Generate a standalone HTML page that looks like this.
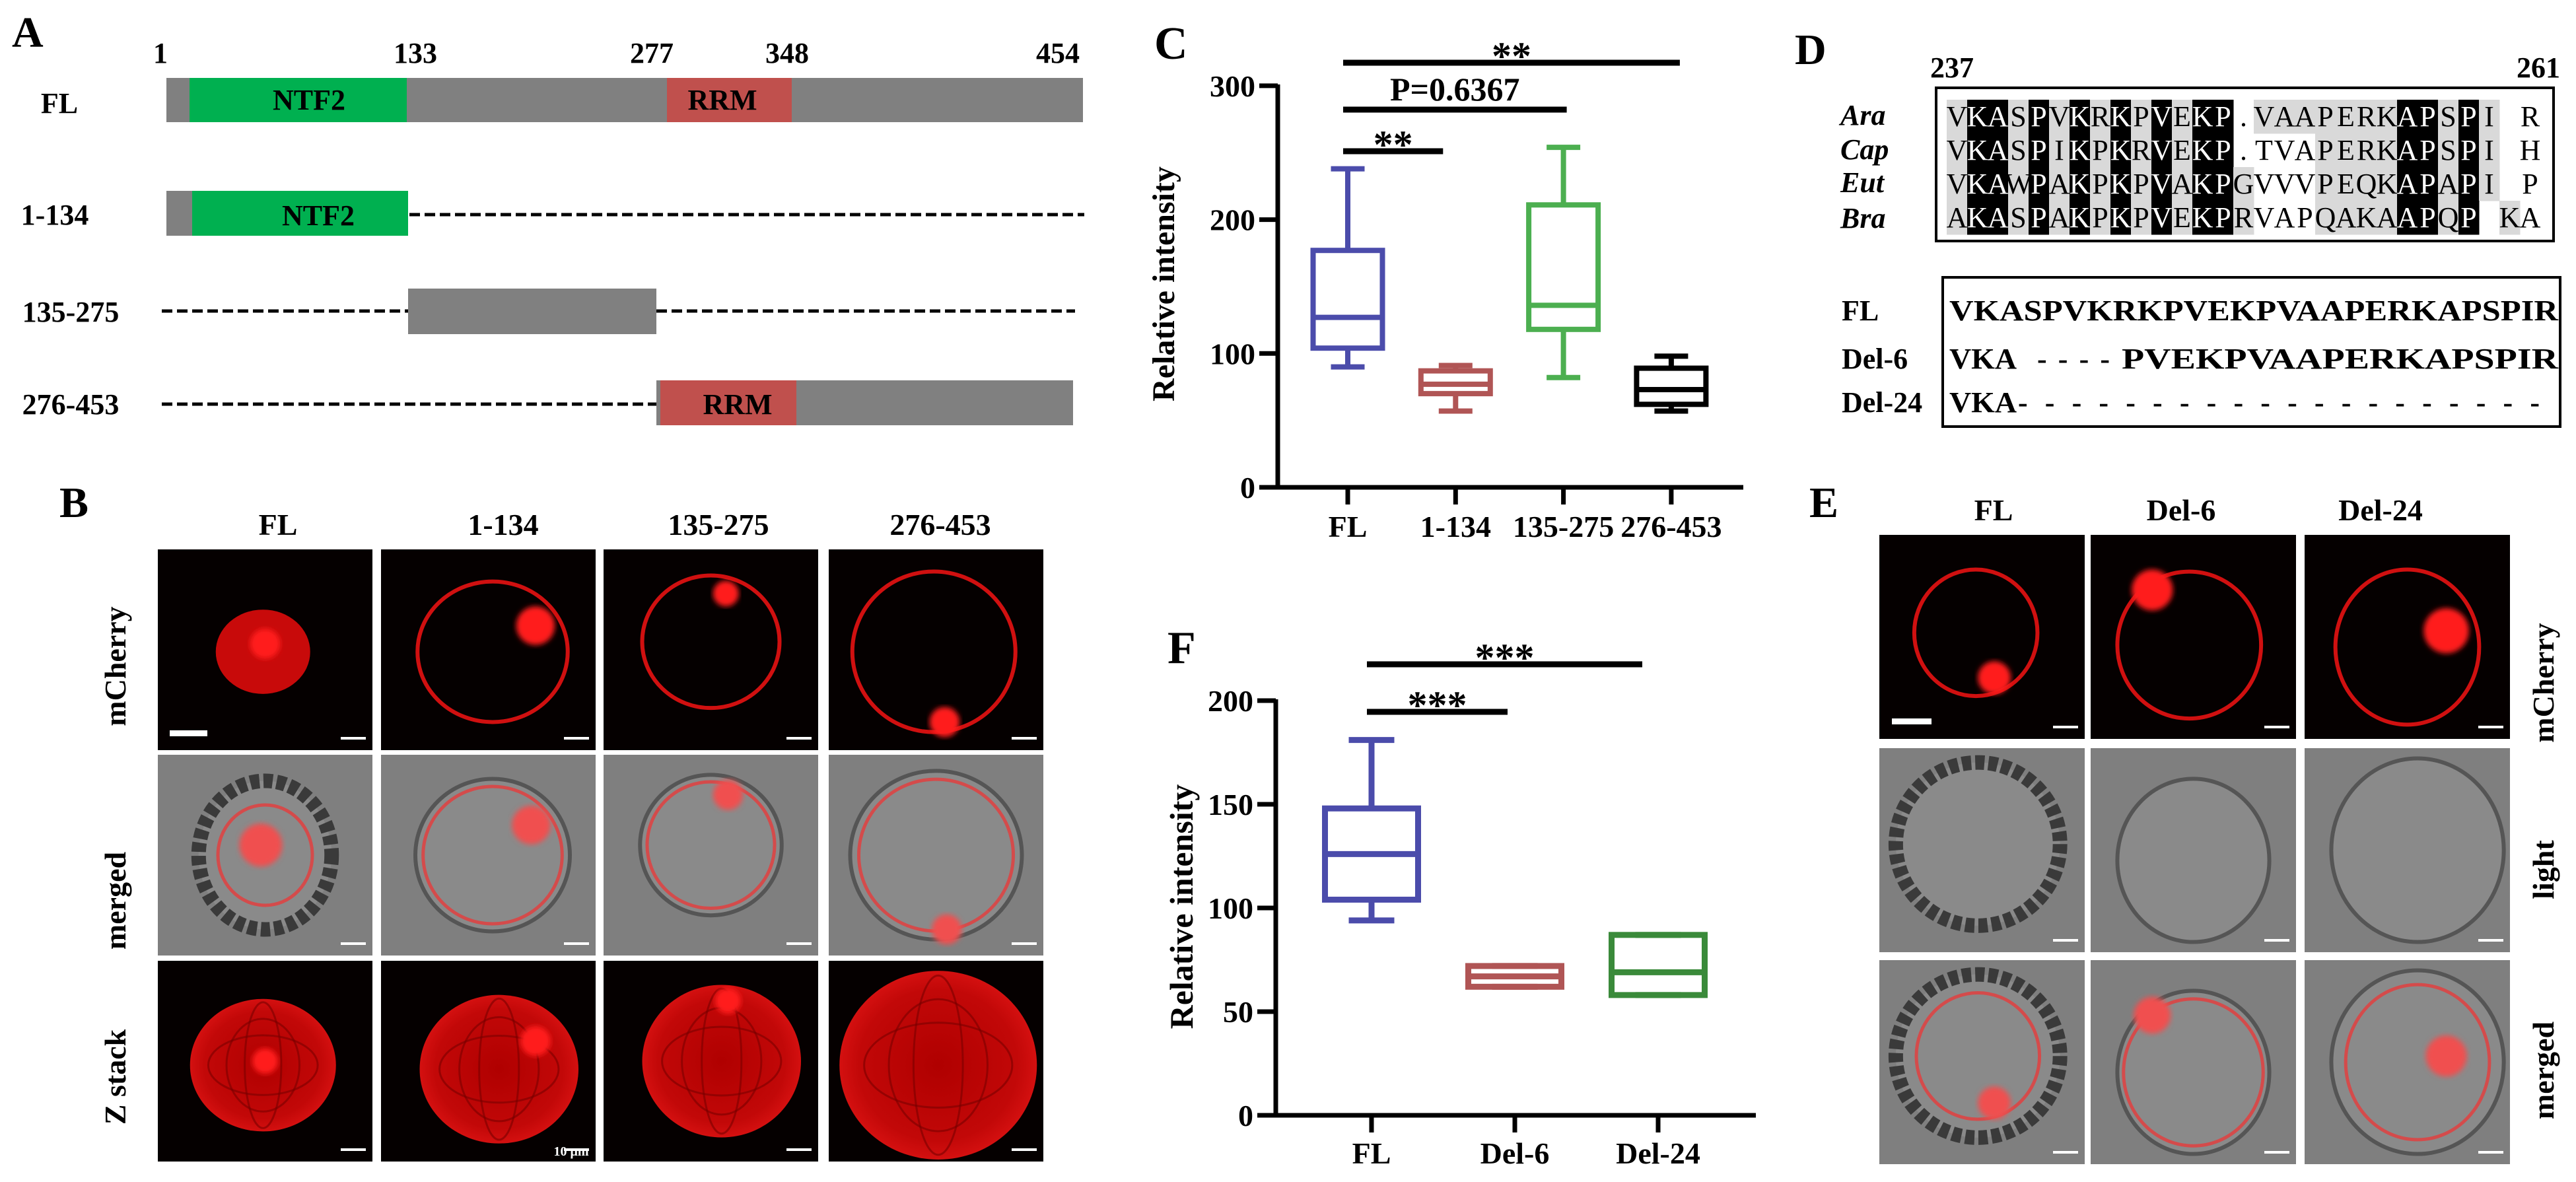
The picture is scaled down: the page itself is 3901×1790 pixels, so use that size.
<!DOCTYPE html>
<html><head><meta charset="utf-8">
<style>
html,body{margin:0;padding:0;background:#fff;}
svg{display:block;font-family:"Liberation Serif",serif;}
.b{font-weight:bold;}
</style></head>
<body>
<svg id="fig" width="3901" height="1790" viewBox="0 0 3901 1790" xmlns="http://www.w3.org/2000/svg">
<rect width="3901" height="1790" fill="#fff"/>

<text class="b" x="18" y="71" font-size="66">A</text>
<text class="b" x="90" y="783" font-size="66">B</text>
<text class="b" x="1748" y="89" font-size="70">C</text>
<text class="b" x="2718" y="97" font-size="66">D</text>
<text class="b" x="2740" y="783" font-size="66">E</text>
<text class="b" x="1768" y="1004" font-size="70">F</text>

<g id="panelA" class="b" font-size="44" text-anchor="middle">
  <text x="243" y="95">1</text>
  <text x="629" y="95">133</text>
  <text x="987" y="95">277</text>
  <text x="1192" y="95">348</text>
  <text x="1602" y="95">454</text>

  <text x="90" y="171">FL</text>
  <rect x="252" y="118" width="1388" height="67" fill="#808080"/>
  <rect x="287" y="118" width="329" height="67" fill="#00b050"/>
  <rect x="1010" y="118" width="189" height="67" fill="#c0504d"/>
  <text x="468" y="166">NTF2</text>
  <text x="1094" y="166">RRM</text>

  <text x="83" y="340">1-134</text>
  <rect x="252" y="289" width="366" height="68" fill="#808080"/>
  <rect x="291" y="289" width="327" height="68" fill="#00b050"/>
  <text x="482" y="341">NTF2</text>
  <line x1="620" y1="325" x2="1642" y2="325" stroke="#000" stroke-width="5" stroke-dasharray="16 7"/>

  <text x="107" y="487">135-275</text>
  <line x1="245" y1="471" x2="618" y2="471" stroke="#000" stroke-width="5" stroke-dasharray="16 7"/>
  <rect x="618" y="437" width="376" height="69" fill="#808080"/>
  <line x1="994" y1="471" x2="1628" y2="471" stroke="#000" stroke-width="5" stroke-dasharray="16 7"/>

  <text x="107" y="627">276-453</text>
  <line x1="245" y1="612" x2="994" y2="612" stroke="#000" stroke-width="5" stroke-dasharray="16 7"/>
  <rect x="994" y="576" width="631" height="68" fill="#808080"/>
  <rect x="1000" y="576" width="206" height="68" fill="#c0504d"/>
  <text x="1117" y="627">RRM</text>
</g>

<g class="b" font-size="46" text-anchor="middle">
  <text x="421" y="810">FL</text>
  <text x="762" y="810">1-134</text>
  <text x="1088" y="810">135-275</text>
  <text x="1424" y="810">276-453</text>
  <text transform="translate(190,1009) rotate(-90)">mCherry</text>
  <text transform="translate(190,1364) rotate(-90)">merged</text>
  <text transform="translate(190,1631) rotate(-90)">Z stack</text>
</g>
<g id="panelB"></g>

<g class="b" font-size="46" text-anchor="middle">
  <text x="3019" y="788">FL</text>
  <text x="3303" y="788">Del-6</text>
  <text x="3605" y="788">Del-24</text>
  <text transform="translate(3867,1034) rotate(-90)">mCherry</text>
  <text transform="translate(3867,1317) rotate(-90)">light</text>
  <text transform="translate(3867,1621) rotate(-90)">merged</text>
</g>
<g id="panelE"></g>

<g id="panelD">
  <text class="b" font-size="44" x="2923" y="117">237</text>
  <text class="b" font-size="44" x="3877" y="117" text-anchor="end">261</text>
  <g id="alnShade"></g>
  <rect x="2932" y="133" width="935" height="232" fill="none" stroke="#000" stroke-width="4"/>
  <g class="b" font-size="44" font-style="italic">
    <text x="2787" y="189">Ara</text>
    <text x="2787" y="241">Cap</text>
    <text x="2787" y="291">Eut</text>
    <text x="2787" y="345">Bra</text>
  </g>
  <rect x="2942" y="420" width="935" height="226" fill="none" stroke="#000" stroke-width="4"/>
  <g class="b" font-size="44">
    <text x="2789" y="485">FL</text>
    <text x="2789" y="558">Del-6</text>
    <text x="2789" y="624">Del-24</text>
    <text x="2952" y="485" textLength="922" lengthAdjust="spacingAndGlyphs">VKASPVKRKPVEKPVAAPERKAPSPIR</text>
    <text x="2952" y="558" textLength="102" lengthAdjust="spacingAndGlyphs">VKA</text>
    <text x="3085" y="558" textLength="110" lengthAdjust="spacing">- - - -</text>
    <text x="3213" y="558" textLength="661" lengthAdjust="spacingAndGlyphs">PVEKPVAAPERKAPSPIR</text>
    <text x="2952" y="624" textLength="102" lengthAdjust="spacingAndGlyphs">VKA</text>
    <text x="3056" y="624" textLength="790" lengthAdjust="spacing">- - - - - - - - - - - - - - - - - - - -</text>
  </g>
</g>

<g id="chartC"></g>
<g id="chartF"></g>
</svg>

<script>
const catsC = ["FL", "1-134", "135-275", "276-453"];
const minC = [90, 57, 82, 57];
const q1C = [104, 70, 118, 62];
const medC = [127, 77, 136, 73];
const q3C = [177, 87, 211, 89];
const maxC = [238, 91, 254, 98];
const colorsC = ["#4b4cab", "#b05555", "#4caf50", "#000000"];
const ticksC = [0, 100, 200, 300];
const sigLabelsC = ["**", "P=0.6367", "**"];
const sigToC = [1, 2, 3];

const catsF = ["FL", "Del-6", "Del-24"];
const minF = [94, 62, 58];
const q1F = [104, 62, 58];
const medF = [126, 67, 69];
const q3F = [148, 72, 87];
const maxF = [181, 72, 87];
const colorsF = ["#4b4cab", "#b05555", "#3a8a3a"];
const ticksF = [0, 50, 100, 150, 200];
const sigLabelsF = ["***", "***"];
const sigToF = [1, 2];

const NS = "http://www.w3.org/2000/svg";
function el(tag, attrs, parent) {
  const e = document.createElementNS(NS, tag);
  for (const k in attrs) e.setAttribute(k, attrs[k]);
  parent.appendChild(e);
  return e;
}

function drawBoxChart(g, cfg) {
  const y = v => cfg.y0 - v * cfg.k;
  const x = i => cfg.x0 + i * cfg.dx;
  let a = el("line", {x1: cfg.ax, y1: y(cfg.ticks[cfg.ticks.length - 1]) - 2, x2: cfg.ax, y2: cfg.y0 + 3, stroke: "#000", "stroke-width": 7}, g);
  
  
  let b = el("line", {x1: cfg.ax - 28, y1: cfg.y0, x2: cfg.axEnd, y2: cfg.y0, stroke: "#000", "stroke-width": 7}, g);
  
  
  cfg.ticks.forEach(t => {
    const tk = el("line", {x1: cfg.ax - 28, y1: y(t), x2: cfg.ax, y2: y(t), stroke: "#000", "stroke-width": 7}, g);
    
    
    const tl = el("text", {x: cfg.ax - 34, y: y(t) + 16, "text-anchor": "end", "font-size": 46, "font-weight": "bold"}, g);
    tl.textContent = t;
    
    
  });
  const title = el("text", {transform: `translate(${cfg.titleX},${cfg.titleY}) rotate(-90)`, "text-anchor": "middle", "font-size": cfg.titleSize, "font-weight": "bold"}, g);
  title.textContent = "Relative intensity";
  
  
  cfg.cats.forEach((c, i) => {
    const tk = el("line", {x1: x(i), y1: cfg.y0, x2: x(i), y2: cfg.y0 + 26, stroke: "#000", "stroke-width": 7}, g);
    
    
    const tl = el("text", {x: x(i), y: cfg.labelY, "text-anchor": "middle", "font-size": 46, "font-weight": "bold"}, g);
    tl.textContent = c;
    
    
    const col = cfg.colors[i], sw = cfg.sw, hw = cfg.bw / 2, cw = cfg.cw / 2;
    const grp = el("g", {stroke: col, "stroke-width": sw, fill: "none"}, g);
    
    
    const wu = el("line", {x1: x(i), y1: y(cfg.q3[i]), x2: x(i), y2: y(cfg.max[i])}, grp);
    
    
    const wl = el("line", {x1: x(i), y1: y(cfg.q1[i]), x2: x(i), y2: y(cfg.min[i])}, grp);
    
    
    const cu = el("line", {x1: x(i) - cw, y1: y(cfg.max[i]), x2: x(i) + cw, y2: y(cfg.max[i])}, grp);
    
    
    const cl = el("line", {x1: x(i) - cw, y1: y(cfg.min[i]), x2: x(i) + cw, y2: y(cfg.min[i])}, grp);
    
    
    const bx = el("rect", {x: x(i) - hw, y: y(cfg.q3[i]), width: cfg.bw, height: Math.max(1, y(cfg.q1[i]) - y(cfg.q3[i]))}, grp);
    
    
    const md = el("line", {x1: x(i) - hw, y1: y(cfg.med[i]), x2: x(i) + hw, y2: y(cfg.med[i])}, grp);
    
    
  });
  cfg.sigTo.forEach((to, j) => {
    const yy = cfg.sigY[j];
    const x1 = x(0) - 7, x2 = x(to) + cfg.sigEndAdj[j];
    const ln = el("line", {x1: x1, y1: yy, x2: x2, y2: yy, stroke: "#000", "stroke-width": 9}, g);
    
    
    const lab = cfg.sigLabels[j];
    const isP = lab.indexOf("P") === 0;
    const tx = el("text", {x: (x1 + x2) / 2, y: isP ? yy - 14 : yy + 10, "text-anchor": "middle", "font-size": isP ? 50 : 60, "font-weight": "bold"}, g);
    tx.textContent = lab;
    
    
  });
}

drawBoxChart(document.getElementById("chartC"), {
  cats: catsC, min: minC, q1: q1C, med: medC, q3: q3C, max: maxC, colors: colorsC, ticks: ticksC,
  sigLabels: sigLabelsC, sigTo: sigToC, sigY: [229, 166, 95], sigEndAdj: [-19, 5, 13],
  y0: 738, k: 2.027, x0: 2041, dx: 163.3, ax: 1935, axEnd: 2640, bw: 105, cw: 51, sw: 8,
  labelY: 813, titleX: 1778, titleY: 430, titleSize: 48
});
drawBoxChart(document.getElementById("chartF"), {
  cats: catsF, min: minF, q1: q1F, med: medF, q3: q3F, max: maxF, colors: colorsF, ticks: ticksF,
  sigLabels: sigLabelsF, sigTo: sigToF, sigY: [1078, 1006], sigEndAdj: [-11, -24],
  y0: 1689, k: 3.14, x0: 2077, dx: 217, ax: 1932, axEnd: 2659, bw: 141, cw: 69, sw: 9,
  labelY: 1762, titleX: 1806, titleY: 1373, titleSize: 50
});

const alnRows = [
  "VKASPVKRKPVEKP.VAAPERKAPSPI R",
  "VKASPIKPKRVEKP.TVAPERKAPSPI H",
  "VKAWPAKPKPVAKPGVVVPEQKAPAPI P",
  "AKASPAKPKPVEKPRVAPQAKAAPQP KA"
];
const blackCols = [1, 2, 4, 6, 8, 10, 12, 13, 22, 23, 25];
const shade = document.getElementById("alnShade");
const colW = 31, colX0 = 2948, rowY0 = 151, rowH = 51;
alnRows.forEach((row, r) => {
  for (let c = 0; c < 29; c++) {
    const ch = row[c] || " ";
    const black = blackCols.indexOf(c) >= 0;
    const gray = !black && c < 28 && ch !== " " && ch !== "." && !(r >= 1 && c >= 15 && c <= 17);
    if (black || gray) {
      const bg = el("rect", {x: colX0 + c * colW, y: rowY0 + r * rowH, width: colW + 0.5, height: rowH + 0.5, fill: black ? "#000" : "#d9d9d9"}, shade);
      
      
    }
    if (ch !== " ") {
      const t = el("text", {x: colX0 + c * colW + colW / 2, y: rowY0 + r * rowH + 40, "text-anchor": "middle", "font-size": 44, fill: black ? "#fff" : "#000"}, shade);
      t.textContent = ch;
      
      
    }
  }
});

const defs = el("defs", {}, document.getElementById("fig"));
const rg = el("radialGradient", {id: "zfill", cx: "50%", cy: "50%", r: "50%"}, defs);
el("stop", {offset: "0%", "stop-color": "#b00000"}, rg);
el("stop", {offset: "80%", "stop-color": "#c20808"}, rg);
el("stop", {offset: "100%", "stop-color": "#d41010"}, rg);
const flt = el("filter", {id: "blur4"}, defs);
el("feGaussianBlur", {stdDeviation: 4}, flt);

function panel(g, px, py, w, h, kind, spec, name) {
  const bgc = kind === "fluor" || kind === "z" ? "#050000" : "#7f7f7f";
  const r = el("rect", {x: px, y: py, width: w, height: h, fill: bgc}, g);
  
  
  const cx = px + spec.cx * w, cy = py + spec.cy * h, rx = spec.rx * w, ry = spec.ry * h;
  if (kind === "z") {
    const e = el("ellipse", {cx: cx, cy: cy, rx: rx, ry: ry, fill: "url(#zfill)"}, g);
    
    
    for (let k = 1; k < 4; k++) {
      const m = el("ellipse", {cx: cx, cy: cy, rx: rx * k / 4, ry: ry * (4 - k) / 4 + ry * 0.2, fill: "none", stroke: "#7a0000", "stroke-width": 3, opacity: 0.6}, g);
      
      
    }
  } else if (kind === "fluor") {
    if (spec.filled) {
      const e = el("ellipse", {cx: cx, cy: cy, rx: rx, ry: ry, fill: "#c80a0a"}, g);
      
      
    } else {
      const e = el("ellipse", {cx: cx, cy: cy, rx: rx, ry: ry, fill: "none", stroke: "#d01010", "stroke-width": 6}, g);
      
      
    }
  } else {
    const e = el("ellipse", {cx: cx, cy: cy, rx: rx, ry: ry, fill: "#8a8a8a", stroke: spec.dark ? "#3a3a3a" : "#555", "stroke-width": spec.dark ? 22 : 6, "stroke-dasharray": spec.dark ? "14 6" : "none"}, g);
    
    
    if (kind === "merged") {
      const m = el("ellipse", {cx: cx, cy: cy, rx: spec.mrx ? spec.mrx * w : rx * 0.9, ry: spec.mry ? spec.mry * h : ry * 0.9, fill: "none", stroke: "#e04040", "stroke-width": 5, opacity: 0.85}, g);
      
      
    }
  }
  if (spec.blob) {
    const bl = el("circle", {cx: px + spec.blob[0] * w, cy: py + spec.blob[1] * h, r: spec.blob[2] * w, fill: kind === "fluor" || kind === "z" ? "#ff1a1a" : "#f05050", filter: "url(#blur4)"}, g);
    
    
  }
  const sb = el("rect", {x: px + w - 48, y: py + h - 20, width: 38, height: 4, fill: "#fff"}, g);
  
  
}

const gB = document.getElementById("panelB");
const bx = [239, 577, 914, 1255], by = [832, 1143, 1455], bw = 325, bh = 304;
const bSpecs = [
  [{cx: .49, cy: .51, rx: .22, ry: .21, filled: true, blob: [.5, .47, .07]}, {cx: .52, cy: .51, rx: .35, ry: .35, blob: [.72, .38, .09]}, {cx: .5, cy: .46, rx: .32, ry: .33, blob: [.57, .22, .06]}, {cx: .49, cy: .51, rx: .38, ry: .4, blob: [.54, .86, .07]}],
  [{cx: .5, cy: .5, rx: .31, ry: .37, dark: true, mrx: .22, mry: .25, blob: [.48, .45, .1]}, {cx: .52, cy: .5, rx: .36, ry: .38, blob: [.7, .35, .09]}, {cx: .5, cy: .45, rx: .33, ry: .35, blob: [.58, .2, .07]}, {cx: .5, cy: .5, rx: .4, ry: .42, blob: [.55, .87, .07]}],
  [{cx: .49, cy: .52, rx: .34, ry: .33, blob: [.5, .5, .06]}, {cx: .55, cy: .54, rx: .37, ry: .37, blob: [.72, .4, .07]}, {cx: .55, cy: .5, rx: .37, ry: .38, blob: [.58, .2, .06]}, {cx: .51, cy: .52, rx: .46, ry: .47}]
];
const bKinds = ["fluor", "merged", "z"];
for (let r = 0; r < 3; r++) for (let c = 0; c < 4; c++) panel(gB, bx[c], by[r], bw, bh, bKinds[r], bSpecs[r][c], "b-image-r" + r + "-c" + c);
const bar1 = el("rect", {x: 257, y: 1106, width: 57, height: 9, fill: "#fff"}, gB);


const sbt = el("text", {x: 865, y: 1750, "text-anchor": "middle", "font-size": 20, "font-weight": "bold", fill: "#fff"}, gB);
sbt.textContent = "10 μm";



const gE = document.getElementById("panelE");
const ex = [2846, 3166, 3490], ey = [810, 1133, 1454], ew = 311, eh = 309;
const eSpecs = [
  [{cx: .47, cy: .48, rx: .3, ry: .31, blob: [.56, .7, .08]}, {cx: .48, cy: .54, rx: .35, ry: .36, blob: [.3, .27, .1]}, {cx: .5, cy: .55, rx: .35, ry: .38, blob: [.69, .47, .11]}],
  [{cx: .48, cy: .47, rx: .4, ry: .4, dark: true}, {cx: .5, cy: .55, rx: .37, ry: .4}, {cx: .55, cy: .5, rx: .42, ry: .45}],
  [{cx: .48, cy: .47, rx: .4, ry: .4, dark: true, mrx: .3, mry: .31, blob: [.56, .7, .08]}, {cx: .5, cy: .55, rx: .37, ry: .4, mrx: .34, mry: .36, blob: [.3, .27, .09]}, {cx: .55, cy: .5, rx: .42, ry: .45, mrx: .35, mry: .38, blob: [.69, .47, .1]}]
];
const eKinds = ["fluor", "light", "merged"];
for (let r = 0; r < 3; r++) for (let c = 0; c < 3; c++) panel(gE, ex[c], ey[r], ew, eh, eKinds[r], eSpecs[r][c], "e-image-r" + r + "-c" + c);
const bar2 = el("rect", {x: 2865, y: 1088, width: 60, height: 9, fill: "#fff"}, gE);


</script>
</body></html>
